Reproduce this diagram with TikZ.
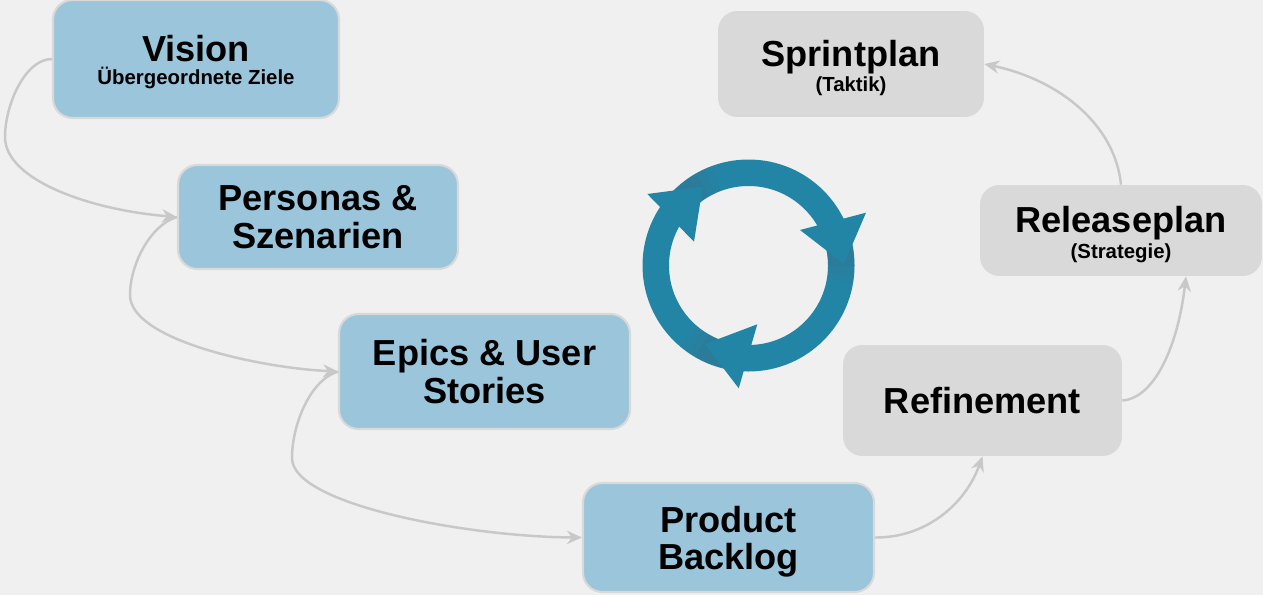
\documentclass[tikz,border=0pt]{standalone}
\usepackage{fontspec}
\setmainfont{Liberation Sans}
\usetikzlibrary{calc,arrows.meta}
\definecolor{bgc}{HTML}{F0F0F0}
\definecolor{bluebox}{HTML}{9AC5DB}
\definecolor{greybox}{HTML}{D9D9D9}
\definecolor{linec}{HTML}{C8C8C8}
\definecolor{ringc}{HTML}{2385A6}
\definecolor{ringd}{HTML}{3D6A80}
\newcommand{\kl}[1]{\fontsize{11.6}{14}\selectfont #1}
\newcommand{\up}[1]{\rule{0pt}{#1}}
\tikzset{
    n1/.style={draw=black!15, line width=1.2pt, fill=bluebox, rounded corners=11pt, align=center, font=\fontsize{20.6}{21.3}\bfseries\selectfont},
    n2/.style={fill=greybox, rounded corners=11pt, align=center, font=\fontsize{20.6}{21.3}\bfseries\selectfont},
    e1/.style={draw=linec, ->, >={Stealth[length=8.5pt,width=7.5pt]}, line width=1.4pt},
    r1/.style={fill=ringc}
}

\begin{document}
\begin{tikzpicture}[x=0.02cm, y=-0.02cm]

\useasboundingbox (0,0) rectangle (1263,595);
\fill[bgc] (0,0) rectangle (1263,595);

% Left column, blue boxes
\node[n1, minimum width=5.72cm, minimum height=2.36cm] (Vision) at (196,59) {\up{18.5pt}Vision\\[-8pt]{\kl{Übergeordnete Ziele}}};
\node[n1, minimum width=5.6cm, minimum height=2.08cm] (Personas) at (318,217) {Personas \&\\Szenarien};
\node[n1, minimum width=5.82cm, minimum height=2.3cm] (Epics) at (484.5,371.5) {Epics \& User\\Stories};
\node[n1, minimum width=5.82cm, minimum height=2.18cm] (Backlog) at (728.5,537.5) {\up{19.5pt}Product\\Backlog};

% Right column, grey boxes
\node[n2, minimum width=5.58cm, minimum height=2.22cm] (Refinement) at (982.5,400.5) {Refinement};
\node[n2, minimum width=5.64cm, minimum height=1.82cm] (Release) at (1121,230.5) {\up{19pt}Releaseplan\\[-6.5pt]{\kl{(Strategie)}}};
\node[n2, minimum width=5.32cm, minimum height=2.12cm] (Sprint) at (851,64) {\up{19.5pt}Sprintplan\\[-7pt]{\kl{(Taktik)}}};

% Connectors
\draw[e1] (Vision.west) .. controls (25,59) and (5,105) .. (5,137) .. controls (5,180) and (90,210) .. (Personas.west);
\draw[e1] (Personas.west) .. controls (150,225) and (130,265) .. (130,295) .. controls (130,340) and (260,368) .. (Epics.west);
\draw[e1] (Epics.west) .. controls (310,380) and (292,425) .. (292,458) .. controls (292,505) and (470,537) .. (Backlog.west);
\draw[e1] (Backlog.east) .. controls (925,538) and (965,505) .. (Refinement.south);
\draw[e1] (Refinement.east) .. controls (1155,398) and (1178,345) .. ($(Release.south)+(65,0)$);
\draw[e1] (Release.north) .. controls (1115,125) and (1060,80) .. (Sprint.east);

% Ring with three arrow heads
\fill[r1, even odd rule] (748.5,265.5) circle[radius=106] (748.5,265.5) circle[radius=79.5];
% Soft shade on the ring under each head
\foreach \b in {-15,105,225}
    \foreach \i/\o in {0/.3,5/.35,10/.3,15/.2,20/.1}
        \fill[ringd, opacity=\o] ($(748.5,265.5)+(\b+\i:79.5)$) arc[start angle=\b+\i, end angle=\b+\i+5, radius=79.5] -- ($(748.5,265.5)+(\b+\i+5:106)$) arc[start angle=\b+\i+5, end angle=\b+\i, radius=106] -- cycle;
\fill[r1] (647.3,194) -- (702.7,186.7) -- (694,241.7) -- cycle;
\fill[r1] (866,212.7) -- (800,230) -- (844,264) -- cycle;
\fill[r1] (757.3,324.3) -- (738.7,388.3) -- (705,344) -- cycle;

\end{tikzpicture}
\end{document}
